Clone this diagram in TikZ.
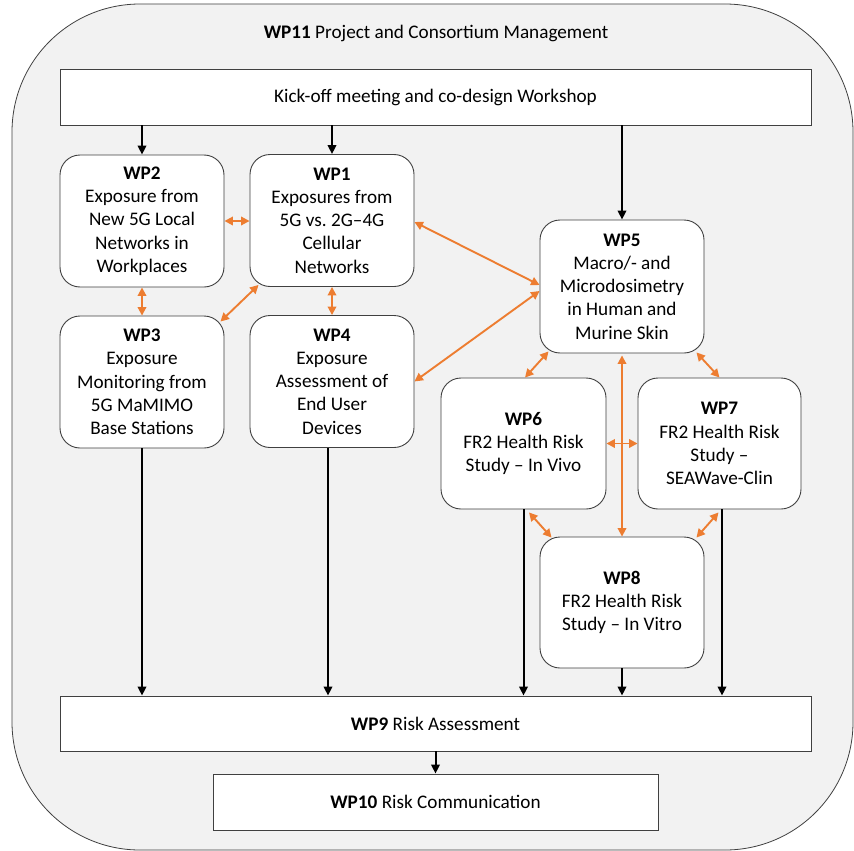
\documentclass[tikz,border=0pt]{standalone}
\usepackage{fontspec}
\setmainfont{Carlito}
\usetikzlibrary{arrows.meta}

\definecolor{wporange}{HTML}{ED7D31}
\definecolor{wpgray}{HTML}{F2F2F2}
\definecolor{wpline}{HTML}{404040}
\newcommand{\wpfont}{\fontsize{19.2}{23.3}\selectfont}

\tikzset{
  wpbox/.style={draw=wpline, fill=white, line width=0.9pt, rounded corners=20pt,
    align=center, minimum width=164pt, minimum height=132pt, inner sep=0pt, font=\wpfont},
  wpbar/.style={draw=wpline, fill=white, line width=0.9pt, minimum height=56pt,
    inner sep=0pt, font=\wpfont},
  flow/.style={line width=2pt, -{Triangle[length=9pt,width=8.5pt]}},
  link/.style={wporange, line width=1.9pt,
    {Triangle[length=8.5pt,width=8.5pt]}-{Triangle[length=8.5pt,width=8.5pt]}},
}

\begin{document}
\begin{tikzpicture}[x=1pt,y=-1pt]
\useasboundingbox (0,0) rectangle (854,851);
\clip (0,0) rectangle (854,851);
\filldraw[fill=wpgray, draw=wpline, line width=0.8pt, rounded corners=128pt] (12,4) rectangle (853,850);
\node[font=\wpfont] (title) at (436,33) {\textbf{WP11} Project and Consortium Management};

% work packages
\node[wpbar, minimum width=751pt] (kick) at (435.5,97) {Kick-off meeting and co-design Workshop};
\node[wpbox] (wptwo) at (142,221) {\textbf{WP2}\\Exposure from\\New 5G Local\\Networks in\\Workplaces};
\node[wpbox] (wpone) at (332,220.5) {\textbf{WP1}\\Exposures from\\5G vs.\ 2G--4G\\Cellular\\Networks};
\node[wpbox] (wpthree) at (142,382) {\textbf{WP3}\\Exposure\\Monitoring from\\5G MaMIMO\\Base Stations};
\node[wpbox] (wpfour) at (332,381.5) {\textbf{WP4}\\Exposure\\Assessment of\\End User\\Devices};
\node[wpbox, minimum height=133pt] (wpfive) at (622,286.5) {\textbf{WP5}\\Macro/- and\\Microdosimetry\\in Human and\\Murine Skin};
\node[wpbox, minimum width=165pt, minimum height=131pt] (wpsix) at (523.5,443.5) {\textbf{WP6}\\FR2 Health Risk\\Study -- In Vivo};
\node[wpbox, minimum width=163pt, minimum height=131pt] (wpseven) at (719.5,443.5) {\textbf{WP7}\\FR2 Health Risk\\Study --\\SEAWave-Clin};
\node[wpbox, minimum height=131pt] (wpeight) at (622,602.5) {\textbf{WP8}\\FR2 Health Risk\\Study -- In Vitro};
\node[wpbar, minimum width=751pt, minimum height=55pt] (wpnine) at (435.5,723.5) {\textbf{WP9} Risk Assessment};
\node[wpbar, minimum width=445pt] (wpten) at (435.5,802) {\textbf{WP10} Risk Communication};

% flow
\draw[flow] (kick.south -| wptwo.north) -- (wptwo.north);
\draw[flow] (kick.south -| wpone.north) -- (wpone.north);
\draw[flow] (kick.south -| wpfive.north) -- (wpfive.north);
\draw[flow] (wpthree.south) -- (wpthree.south |- wpnine.north);
\draw[flow] ([shift={(-4,0)}]wpfour.south) -- ([shift={(-4,0)}]wpfour.south |- wpnine.north);
\draw[flow] (wpsix.south) -- (wpsix.south |- wpnine.north);
\draw[flow] (wpeight.south) -- (wpeight.south |- wpnine.north);
\draw[flow] ([shift={(2.5,0)}]wpseven.south) -- ([shift={(2.5,0)}]wpseven.south |- wpnine.north);
\draw[flow] (wpnine.south -| wpten.north) -- (wpten.north);

% links
\draw[link] (wptwo.east) -- (wptwo.east -| wpone.west);
\draw[link] (wptwo.south) -- (wpthree.north);
\draw[link] (wpone.south) -- (wpfour.north);
\draw[link] ([shift={(9,-2)}]wpone.south west) -- ([shift={(-4,6)}]wpthree.north east);
\draw[link] ([shift={(0,1.5)}]wpone.east) -- ([shift={(0,-1.5)}]wpfive.west);
\draw[link] (wpfour.east) -- ([shift={(0,4.5)}]wpfive.west);
\draw[link] ([shift={(9,-2)}]wpfive.south west) -- ([shift={(1.5,0)}]wpsix.north);
\draw[link] ([shift={(-8,-1)}]wpfive.south east) -- (wpseven.north);
\draw[link] (wpeight.north) -- ([shift={(0,2)}]wpfive.south);
\draw[link] (wpsix.east) -- (wpseven.west);
\draw[link] ([shift={(5.5,3)}]wpsix.south) -- ([shift={(12,1)}]wpeight.north west);
\draw[link] ([shift={(-1,3)}]wpseven.south) -- ([shift={(-8,1)}]wpeight.north east);
\end{tikzpicture}
\end{document}
